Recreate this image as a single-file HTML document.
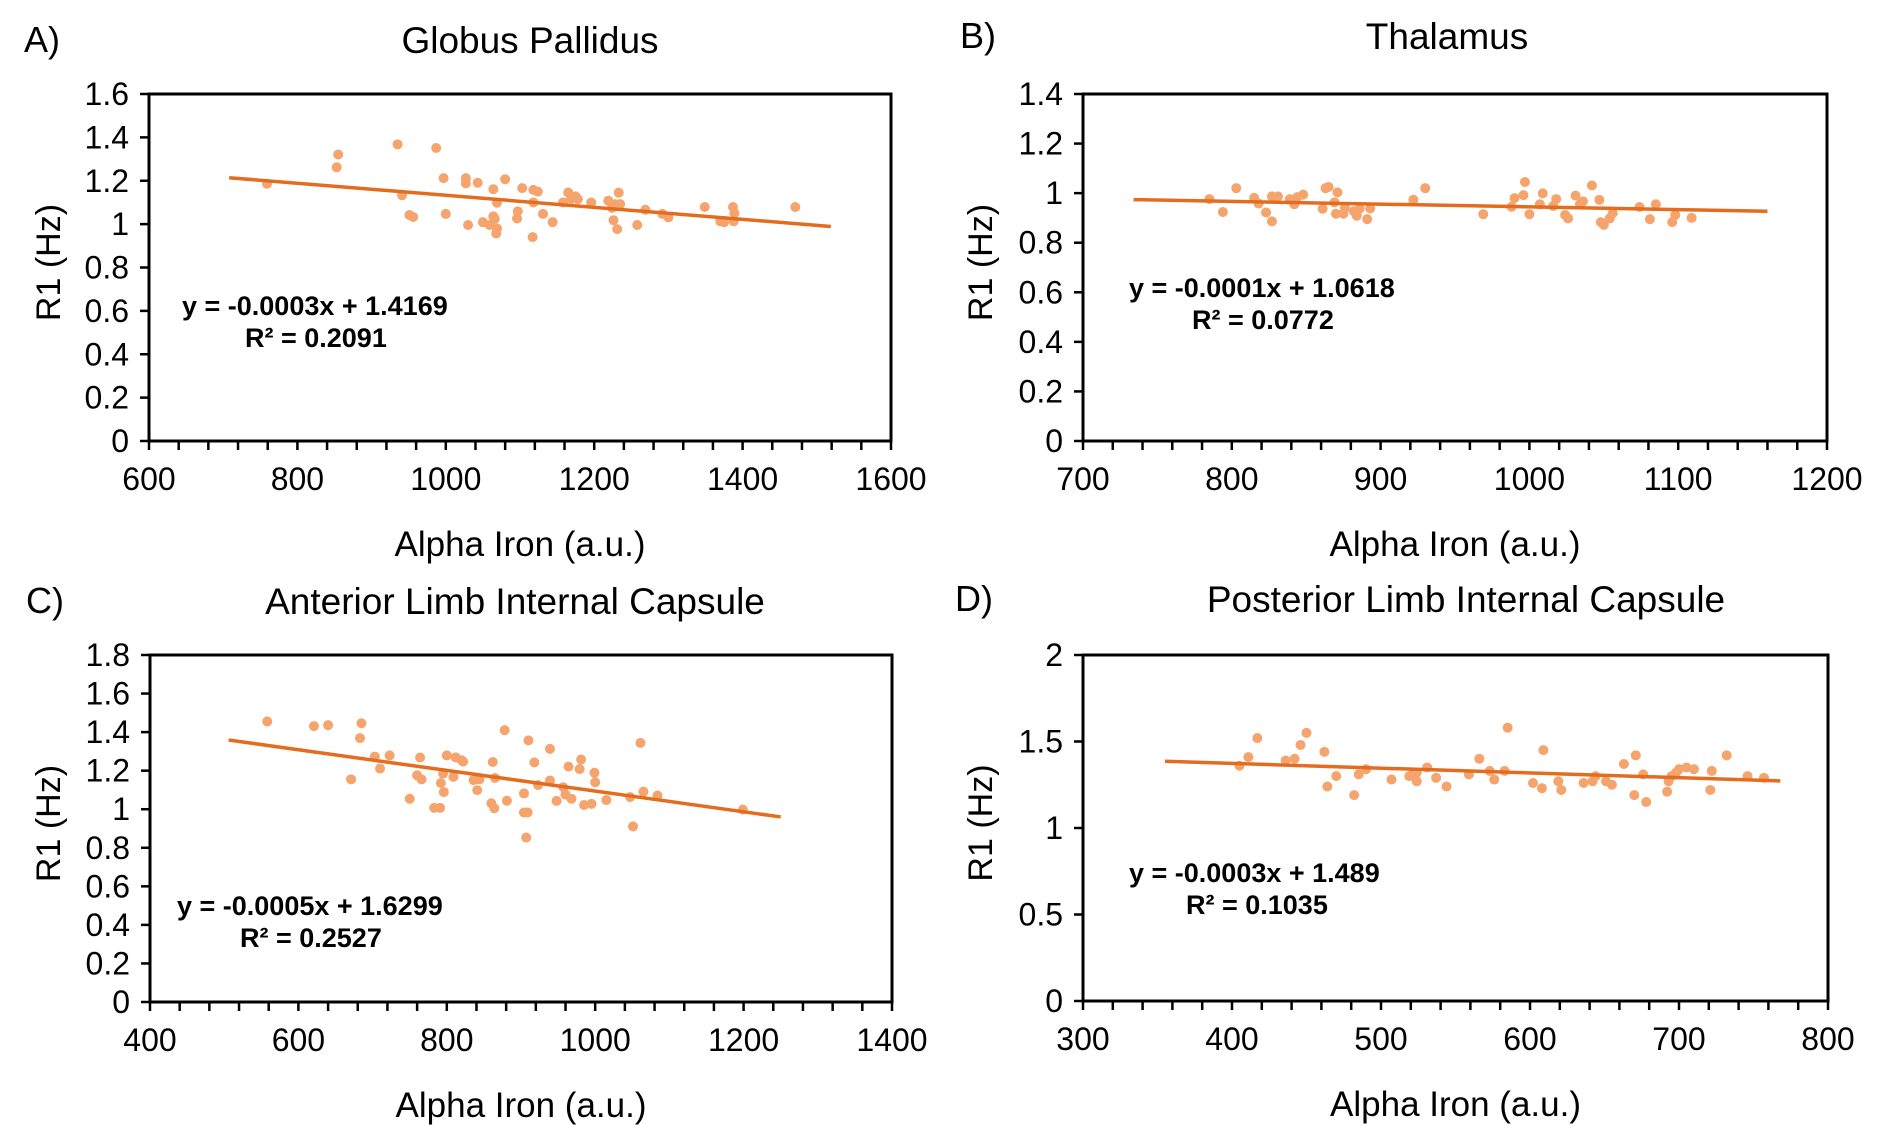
<!DOCTYPE html>
<html><head><meta charset="utf-8"><style>
html,body{margin:0;padding:0;background:#fff;}
svg{display:block;font-family:"Liberation Sans",Arial,sans-serif;}
</style></head><body>
<svg id="fig" width="1877" height="1125" viewBox="0 0 1877 1125" xmlns="http://www.w3.org/2000/svg"></svg>
<script>
// Panel A: Globus Pallidus
const aX=[759,853,855,935,941,951,956,987,997,1000,1027,1027,1030,1043,1050,1059,1064,1064,1066,1069,1068,1069,1080,1096,1097,1103,1117,1118,1118,1124,1131,1144,1158,1165,1169,1175,1178,1196,1219,1224,1226,1228,1231,1233,1235,1258,1269,1292,1300,1349,1370,1375,1387,1389,1388,1471];
const aY=[1.186,1.262,1.321,1.368,1.133,1.042,1.033,1.351,1.212,1.047,1.212,1.188,0.996,1.191,1.009,0.996,1.161,1.036,1.024,0.980,0.957,1.099,1.207,1.026,1.059,1.166,0.940,1.100,1.158,1.150,1.047,1.009,1.100,1.146,1.117,1.128,1.115,1.100,1.108,1.075,1.018,1.092,0.977,1.145,1.092,0.996,1.066,1.047,1.031,1.079,1.013,1.009,1.079,1.051,1.013,1.079];
const aLineX=[708,1519];
const aLineY=[1.214,0.989];
const aXTicks=[600,800,1000,1200,1400,1600];
const aYTicks=[0,0.2,0.4,0.6,0.8,1,1.2,1.4,1.6];
// Panel B: Thalamus
const bX=[785,794,803,815,818,823,827,827,831,839,842,844,848,861,863,865,869,871,870,875,876,882,884,886,891,893,922,930,969,988,990,996,997,1000,1007,1009,1016,1018,1024,1026,1031,1034,1036,1042,1047,1048,1050,1054,1056,1074,1081,1085,1096,1098,1109];
const bY=[0.976,0.924,1.020,0.981,0.958,0.922,0.886,0.987,0.987,0.976,0.955,0.984,0.994,0.937,1.020,1.025,0.963,1.003,0.917,0.917,0.941,0.927,0.909,0.938,0.895,0.938,0.973,1.020,0.915,0.945,0.980,0.992,1.045,0.915,0.955,0.999,0.948,0.976,0.912,0.898,0.990,0.955,0.967,1.031,0.973,0.883,0.872,0.898,0.919,0.944,0.895,0.955,0.883,0.912,0.900];
const bLineX=[734,1160];
const bLineY=[0.974,0.927];
const bXTicks=[700,800,900,1000,1100,1200];
const bYTicks=[0,0.2,0.4,0.6,0.8,1,1.2,1.4];
// Panel C: Anterior Limb Internal Capsule
const cX=[558,621,640,671,683,685,703,710,723,750,760,764,766,783,791,792,795,796,800,809,812,820,822,836,841,844,860,862,864,865,878,881,904,904,909,907,910,918,923,939,939,948,957,960,964,968,979,981,985,995,999,1000,1015,1047,1051,1061,1065,1084,1199];
const cY=[1.455,1.431,1.436,1.155,1.369,1.446,1.273,1.211,1.279,1.054,1.176,1.268,1.155,1.007,1.007,1.136,1.185,1.089,1.279,1.168,1.269,1.254,1.247,1.151,1.099,1.155,1.031,1.245,1.005,1.162,1.410,1.044,1.082,0.983,0.983,0.853,1.357,1.243,1.125,1.313,1.149,1.043,1.114,1.076,1.221,1.054,1.208,1.258,1.022,1.028,1.189,1.140,1.048,1.063,0.911,1.344,1.091,1.071,0.998];
const cLineX=[506,1250];
const cLineY=[1.359,0.960];
const cXTicks=[400,600,800,1000,1200,1400];
const cYTicks=[0,0.2,0.4,0.6,0.8,1,1.2,1.4,1.6,1.8];
// Panel D: Posterior Limb Internal Capsule
const dX=[405,411,417,436,442,446,450,462,464,470,482,485,490,507,519,521,524,524,531,537,544,559,566,573,576,583,585,602,608,609,619,621,636,642,644,651,655,663,670,671,676,678,692,693,695,698,700,705,710,721,722,732,746,757];
const dY=[1.36,1.41,1.52,1.39,1.40,1.48,1.55,1.44,1.24,1.30,1.19,1.31,1.34,1.28,1.30,1.31,1.27,1.32,1.35,1.29,1.24,1.31,1.40,1.33,1.28,1.33,1.58,1.26,1.23,1.45,1.27,1.22,1.26,1.27,1.30,1.27,1.25,1.37,1.19,1.42,1.31,1.15,1.21,1.27,1.30,1.32,1.34,1.35,1.34,1.22,1.33,1.42,1.30,1.29];
const dLineX=[355,768];
const dLineY=[1.386,1.272];
const dXTicks=[300,400,500,600,700,800];
const dYTicks=[0,0.5,1,1.5,2];

const NS="http://www.w3.org/2000/svg";
const svg=document.getElementById('fig');
function mk(tag,attrs,parent,txt){const e=document.createElementNS(NS,tag);for(const k in attrs)e.setAttribute(k,attrs[k]);if(txt!==undefined)e.textContent=txt;(parent||svg).appendChild(e);return e;}

function panel(o){
  const g=mk('g',{});
  
  
  const xMin=o.xt[0],xMax=o.xt[o.xt.length-1],yMin=o.yt[0],yMax=o.yt[o.yt.length-1];
  const sx=v=>o.L+(v-xMin)/(xMax-xMin)*(o.R-o.L);
  const sy=v=>o.B-(v-yMin)/(yMax-yMin)*(o.B-o.T);
  const frame=mk('rect',{x:o.L,y:o.T,width:o.R-o.L,height:o.B-o.T,fill:'none',stroke:'#000','stroke-width':3},g);
  
  
  o.yt.forEach(v=>{
    const y=sy(v);
    const t=mk('line',{x1:o.L-9,x2:o.L,y1:y,y2:y,stroke:'#000','stroke-width':2.5},g);
    
    
    const lb=mk('text',{x:o.L-20,y:y+11,'font-size':32,'text-anchor':'end',fill:'#000'},g,String(v));
    
    
  });
  for(let i=0;i<=25;i++){
    const x=o.L+i*(o.R-o.L)/25;
    const t=mk('line',{x1:x,x2:x,y1:o.B,y2:o.B+9,stroke:'#000','stroke-width':2.5},g);
    
    
  }
  o.xt.forEach(v=>{
    const lb=mk('text',{x:sx(v),y:o.B+49,'font-size':32,'text-anchor':'middle',fill:'#000'},g,String(v));
    
    
  });
  o.px.forEach((v,i)=>{
    const c=mk('circle',{cx:sx(v),cy:sy(o.py[i]),r:5,fill:'#F4A46C'},g);
    
    
  });
  const ln=mk('line',{x1:sx(o.lx[0]),y1:sy(o.ly[0]),x2:sx(o.lx[1]),y2:sy(o.ly[1]),stroke:'#E46C1F','stroke-width':3.5},g);
  
  
  const e1=mk('text',{x:o.eqX,y:o.eqY,'font-size':27,'font-weight':'bold',fill:'#000'},g,o.eq);
  
  
  const e2=mk('text',{x:o.r2X,y:o.eqY+32,'font-size':27,'font-weight':'bold',fill:'#000'},g,o.r2);
  
  
  const ti=mk('text',{x:o.tX,y:o.tY+1,'font-size':37,'text-anchor':'middle',fill:'#000'},g,o.title);
  
  
  const le=mk('text',{x:o.letX,y:o.tY,'font-size':36,fill:'#000'},g,o.letter);
  
  
  const xt=mk('text',{x:(o.L+o.R)/2,y:o.B+115,'font-size':35,'text-anchor':'middle',fill:'#000'},g,'Alpha Iron (a.u.)');
  
  
  const cy=(o.T+o.B)/2-5;
  const yt=mk('text',{x:o.yTX,y:cy,'font-size':34,'text-anchor':'middle',fill:'#000',transform:'rotate(-90 '+o.yTX+' '+cy+')'},g,'R1 (Hz)');
  
  
}
panel({id:'globus-pallidus',L:149,R:891,T:94,B:441,xt:aXTicks,yt:aYTicks,px:aX,py:aY,lx:aLineX,ly:aLineY,eq:'y = -0.0003x + 1.4169',r2:'R² = 0.2091',eqX:182,eqY:315,r2X:245,title:'Globus Pallidus',tX:530,tY:52,letter:'A)',letX:24,yTX:60});
panel({id:'thalamus',L:1083,R:1827,T:94,B:441,xt:bXTicks,yt:bYTicks,px:bX,py:bY,lx:bLineX,ly:bLineY,eq:'y = -0.0001x + 1.0618',r2:'R² = 0.0772',eqX:1129,eqY:297,r2X:1192,title:'Thalamus',tX:1447,tY:48,letter:'B)',letX:960,yTX:992});
panel({id:'anterior-limb',L:150,R:892,T:655,B:1002,xt:cXTicks,yt:cYTicks,px:cX,py:cY,lx:cLineX,ly:cLineY,eq:'y = -0.0005x + 1.6299',r2:'R² = 0.2527',eqX:177,eqY:915,r2X:240,title:'Anterior Limb Internal Capsule',tX:515,tY:613,letter:'C)',letX:26,yTX:60});
panel({id:'posterior-limb',L:1083,R:1828,T:655,B:1001,xt:dXTicks,yt:dYTicks,px:dX,py:dY,lx:dLineX,ly:dLineY,eq:'y = -0.0003x + 1.489',r2:'R² = 0.1035',eqX:1129,eqY:882,r2X:1186,title:'Posterior Limb Internal Capsule',tX:1466,tY:611,letter:'D)',letX:955,yTX:992});
</script>
</body></html>
